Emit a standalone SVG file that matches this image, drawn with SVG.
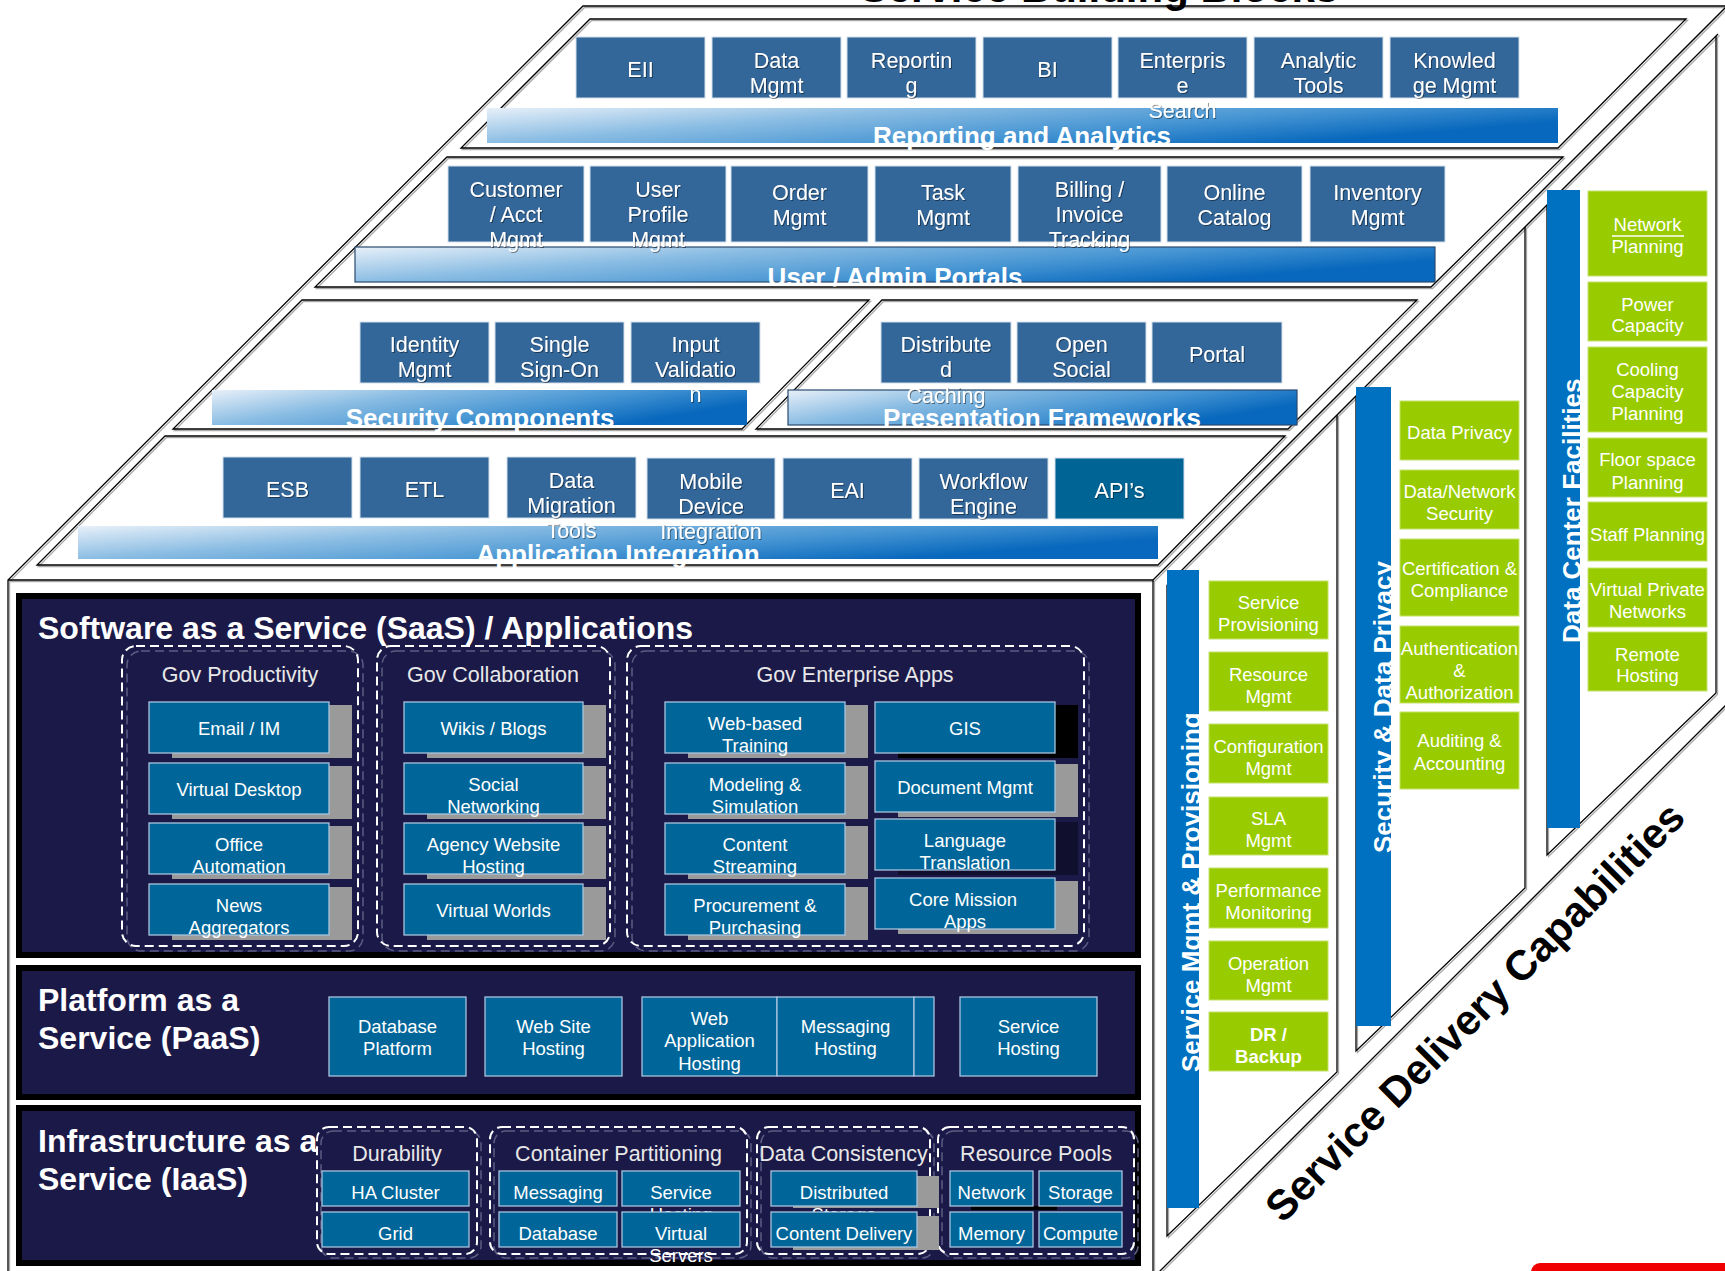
<svg xmlns="http://www.w3.org/2000/svg" width="1725" height="1271" viewBox="0 0 1725 1271">
<defs>
<style>
text{font-family:"Liberation Sans",Arial,Helvetica,sans-serif}
.e{fill:none;stroke:#000;stroke-width:1.3}
.es{fill:none;stroke:#a9a9a9;stroke-width:1.3}
.tb{fill:#336699;stroke:#d3dfeb;stroke-width:1}
.tt{font-size:21.5px;fill:#fff;text-anchor:middle}
.bn{font-size:26px;font-weight:bold;fill:#fff;text-anchor:middle}
.pn{fill:#1b1948;stroke:#000;stroke-width:6}
.pt{font-size:32px;font-weight:bold;fill:#fff}
.gd{fill:none;stroke:#fff;stroke-width:2;stroke-dasharray:9 5}
.gds{fill:none;stroke:#5c5c82;stroke-width:1.5;stroke-dasharray:9 5}
.gl{font-size:21.5px;fill:#e8e8e8;text-anchor:middle}
.sb{fill:#006699;stroke:#a9c4de;stroke-width:1.3}
.sh{fill:#9a9a9a}
.st{font-size:18.5px;fill:#fff;text-anchor:middle}
.gb{fill:#99cc00;stroke:#c4e16b;stroke-width:1}
.bar{fill:#0070c0}
.vt{font-size:26px;font-weight:bold;fill:#fff}
</style>
<linearGradient id="grad" x1="0" y1="0" x2="1" y2="0.4">
<stop offset="0" stop-color="#e7f0f9"/>
<stop offset="0.35" stop-color="#8bbde3"/>
<stop offset="0.7" stop-color="#4695d3"/>
<stop offset="1" stop-color="#0868bd"/>
</linearGradient>
<filter id="ds" x="-5%" y="-20%" width="110%" height="150%">
<feDropShadow dx="1" dy="1" stdDeviation="0.6" flood-color="#000" flood-opacity="0.45"/>
</filter>
<g id="tiers">
<polygon points="590,19 1686,19 1558,148 461,148"/>
<polygon points="447,157 1563,157 1431,287 315,287"/>
<polygon points="302,300 869,300 742,429 173,429"/>
<polygon points="882,300 1417,300 1288,429 756,429"/>
<polygon points="165,436 1285,436 1158,565 37,565"/>
</g>
<g id="frame">
<path d="M8,1275 V580 L583,6 H1730"/>
<path d="M8,580 H1153 V1275"/>
<path d="M1153,580 L1730,3"/>
<path d="M1153,1278 L1730,701"/>
<path d="M1167,585 L1718,34"/>
<path d="M1167,585 V1236 L1337,1072 V415"/>
<path d="M1356,396 V1051 L1525,888 V227"/>
<path d="M1547,205 V855 L1716,693 V36"/>
</g>
</defs>

<rect width="1725" height="1271" fill="#fff"/>

<g id="outline">
<use href="#frame" class="es" transform="translate(1.5,1.5)"/>
<use href="#frame" class="e"/>
<use href="#tiers" fill="#fff" stroke="none"/>
<use href="#tiers" class="es" transform="translate(1.5,1.5)"/>
<use href="#tiers" class="e"/>
</g>

<g id="banners">
<rect x="487" y="108" width="1071" height="35" fill="url(#grad)"/>
<rect x="355" y="247" width="1080" height="35" fill="url(#grad)" stroke="#2b4a6e" stroke-width="1.2"/>
<rect x="212" y="390" width="535" height="35" fill="url(#grad)"/>
<rect x="788" y="390" width="509" height="35" fill="url(#grad)" stroke="#2b4a6e" stroke-width="1.2"/>
<rect x="78" y="526" width="1080" height="33" fill="url(#grad)"/>
</g>

<g id="tier-boxes">
<rect class="tb" x="576" y="37" width="129" height="61"/>
<rect class="tb" x="712" y="37" width="129" height="61"/>
<rect class="tb" x="847" y="37" width="129" height="61"/>
<rect class="tb" x="983" y="37" width="129" height="61"/>
<rect class="tb" x="1118" y="37" width="129" height="61"/>
<rect class="tb" x="1254" y="37" width="129" height="61"/>
<rect class="tb" x="1390" y="37" width="129" height="61"/>

<rect class="tb" x="448" y="166" width="136" height="76"/>
<rect class="tb" x="590" y="166" width="136" height="76"/>
<rect class="tb" x="731" y="166" width="137" height="76"/>
<rect class="tb" x="875" y="166" width="136" height="76"/>
<rect class="tb" x="1018" y="166" width="143" height="76"/>
<rect class="tb" x="1167" y="166" width="135" height="76"/>
<rect class="tb" x="1310" y="166" width="135" height="76"/>

<rect class="tb" x="360" y="322" width="129" height="61"/>
<rect class="tb" x="495" y="322" width="129" height="61"/>
<rect class="tb" x="631" y="322" width="129" height="61"/>
<rect class="tb" x="881" y="322" width="130" height="61"/>
<rect class="tb" x="1017" y="322" width="129" height="61"/>
<rect class="tb" x="1152" y="322" width="130" height="61"/>

<rect class="tb" x="223" y="457" width="129" height="61"/>
<rect class="tb" x="360" y="457" width="129" height="61"/>
<rect class="tb" x="507" y="457" width="129" height="61"/>
<rect class="tb" x="647" y="458" width="128" height="61"/>
<rect class="tb" x="783" y="458" width="129" height="61"/>
<rect class="tb" x="919" y="458" width="129" height="61"/>
<rect x="1055" y="458" width="129" height="61" fill="#006495" stroke="#d3dfeb" stroke-width="1"/>
</g>

<g id="tier-texts" class="tt" filter="url(#ds)">
<text x="640.5" y="77">EII</text>
<text x="776.5" y="68">Data</text><text x="776.5" y="93">Mgmt</text>
<text x="911.5" y="68">Reportin</text><text x="911.5" y="93">g</text>
<text x="1047.5" y="77">BI</text>
<text x="1182.5" y="68">Enterpris</text><text x="1182.5" y="93">e</text><text x="1182.5" y="118">Search</text>
<text x="1318.5" y="68">Analytic</text><text x="1318.5" y="93">Tools</text>
<text x="1454.5" y="68">Knowled</text><text x="1454.5" y="93">ge Mgmt</text>

<text x="516" y="197">Customer</text><text x="516" y="222">/ Acct</text><text x="516" y="247">Mgmt</text>
<text x="658" y="197">User</text><text x="658" y="222">Profile</text><text x="658" y="247">Mgmt</text>
<text x="799.5" y="200">Order</text><text x="799.5" y="225">Mgmt</text>
<text x="943" y="200">Task</text><text x="943" y="225">Mgmt</text>
<text x="1089.5" y="197">Billing /</text><text x="1089.5" y="222">Invoice</text><text x="1089.5" y="247">Tracking</text>
<text x="1234.5" y="200">Online</text><text x="1234.5" y="225">Catalog</text>
<text x="1377.5" y="200">Inventory</text><text x="1377.5" y="225">Mgmt</text>

<text x="424.5" y="352">Identity</text><text x="424.5" y="377">Mgmt</text>
<text x="559.5" y="352">Single</text><text x="559.5" y="377">Sign-On</text>
<text x="695.5" y="352">Input</text><text x="695.5" y="377">Validatio</text><text x="695.5" y="402">n</text>
<text x="946" y="352">Distribute</text><text x="946" y="377">d</text><text x="946" y="403">Caching</text>
<text x="1081.5" y="352">Open</text><text x="1081.5" y="377">Social</text>
<text x="1217" y="362">Portal</text>

<text x="287.5" y="497">ESB</text>
<text x="424.5" y="497">ETL</text>
<text x="571.5" y="488">Data</text><text x="571.5" y="513">Migration</text><text x="571.5" y="538">Tools</text>
<text x="711" y="489">Mobile</text><text x="711" y="514">Device</text><text x="711" y="539">Integration</text>
<text x="847.5" y="498">EAI</text>
<text x="983.5" y="489">Workflow</text><text x="983.5" y="514">Engine</text>
<text x="1119.5" y="498">API’s</text>
</g>

<g id="banner-titles" class="bn">
<text x="1022" y="145">Reporting and Analytics</text>
<text x="895" y="286">User / Admin Portals</text>
<text x="480" y="427">Security Components</text>
<text x="1042" y="427">Presentation Frameworks</text>
<text x="618" y="563">Application Integration</text>
</g>

<g id="col-service-mgmt">
<rect class="bar" x="1167" y="570" width="32" height="638"/>
<text class="vt" transform="translate(1200,1072) rotate(-90)">Service Mgmt &amp; Provisioning</text>
<rect class="gb" x="1209" y="581" width="119" height="58"/>
<rect class="gb" x="1209" y="652" width="119" height="59"/>
<rect class="gb" x="1209" y="724" width="119" height="59"/>
<rect class="gb" x="1209" y="797" width="119" height="58"/>
<rect class="gb" x="1209" y="868" width="119" height="60"/>
<rect class="gb" x="1209" y="941" width="119" height="59"/>
<rect class="gb" x="1209" y="1012" width="119" height="59"/>
<g class="st">
<text x="1268.5" y="609">Service</text><text x="1268.5" y="631">Provisioning</text>
<text x="1268.5" y="681">Resource</text><text x="1268.5" y="703">Mgmt</text>
<text x="1268.5" y="753">Configuration</text><text x="1268.5" y="775">Mgmt</text>
<text x="1268.5" y="825">SLA</text><text x="1268.5" y="847">Mgmt</text>
<text x="1268.5" y="897">Performance</text><text x="1268.5" y="919">Monitoring</text>
<text x="1268.5" y="970">Operation</text><text x="1268.5" y="992">Mgmt</text>
<text x="1268.5" y="1041" font-weight="bold">DR /</text><text x="1268.5" y="1063" font-weight="bold">Backup</text>
</g>
</g>

<g id="col-security">
<rect class="bar" x="1356" y="387" width="35" height="639"/>
<text class="vt" transform="translate(1392,853) rotate(-90)">Security &amp; Data Privacy</text>
<rect class="gb" x="1400" y="401" width="119" height="59"/>
<rect class="gb" x="1400" y="470" width="119" height="59"/>
<rect class="gb" x="1400" y="539" width="119" height="77"/>
<rect class="gb" x="1400" y="626" width="119" height="77"/>
<rect class="gb" x="1400" y="712" width="119" height="77"/>
<g class="st">
<text x="1459.5" y="439">Data Privacy</text>
<text x="1459.5" y="498">Data/Network</text><text x="1459.5" y="520">Security</text>
<text x="1459.5" y="575">Certification &amp;</text><text x="1459.5" y="597">Compliance</text>
<text x="1459.5" y="655">Authentication</text><text x="1459.5" y="677">&amp;</text><text x="1459.5" y="699">Authorization</text>
<text x="1459.5" y="747">Auditing &amp;</text><text x="1459.5" y="770">Accounting</text>
</g>
</g>

<g id="col-datacenter">
<rect class="bar" x="1547" y="190" width="33" height="638"/>
<text class="vt" transform="translate(1581,643) rotate(-90)">Data Center Facilities</text>
<rect class="gb" x="1588" y="191" width="119" height="85"/>
<rect class="gb" x="1588" y="282" width="119" height="59"/>
<rect class="gb" x="1588" y="347" width="119" height="85"/>
<rect class="gb" x="1588" y="438" width="119" height="59"/>
<rect class="gb" x="1588" y="502" width="119" height="59"/>
<rect class="gb" x="1588" y="568" width="119" height="59"/>
<rect class="gb" x="1588" y="632" width="119" height="59"/>
<g class="st">
<text x="1647.5" y="231">Network</text>
<line x1="1612" y1="236" x2="1684" y2="236" stroke="#fff" stroke-width="1.3"/>
<text x="1647.5" y="253">Planning</text>
<text x="1647.5" y="311">Power</text><text x="1647.5" y="332">Capacity</text>
<text x="1647.5" y="376">Cooling</text><text x="1647.5" y="398">Capacity</text><text x="1647.5" y="420">Planning</text>
<text x="1647.5" y="466">Floor space</text><text x="1647.5" y="489">Planning</text>
<text x="1647.5" y="541">Staff Planning</text>
<text x="1647.5" y="596">Virtual Private</text><text x="1647.5" y="618">Networks</text>
<text x="1647.5" y="661">Remote</text><text x="1647.5" y="682">Hosting</text>
</g>
</g>

<g id="saas">
<rect class="pn" x="19" y="596" width="1119" height="359"/>
<text class="pt" x="38" y="639">Software as a Service (SaaS) / Applications</text>

<rect class="gds" x="127" y="651" width="236" height="300" rx="14"/>
<rect class="gd" x="122" y="646" width="236" height="300" rx="14"/>
<rect class="gds" x="382" y="651" width="233" height="300" rx="14"/>
<rect class="gd" x="377" y="646" width="233" height="300" rx="14"/>
<rect class="gds" x="632" y="651" width="457" height="300" rx="14"/>
<rect class="gd" x="627" y="646" width="457" height="300" rx="14"/>
<text class="gl" x="240" y="682">Gov Productivity</text>
<text class="gl" x="493" y="682">Gov Collaboration</text>
<text class="gl" x="855" y="682">Gov Enterprise Apps</text>

<rect class="sh" x="172" y="705" width="180" height="53"/>
<rect class="sh" x="172" y="766" width="180" height="53"/>
<rect class="sh" x="172" y="826" width="180" height="53"/>
<rect class="sh" x="172" y="887" width="180" height="53"/>
<rect class="sh" x="427" y="705" width="179" height="53"/>
<rect class="sh" x="427" y="766" width="179" height="53"/>
<rect class="sh" x="427" y="826" width="179" height="53"/>
<rect class="sh" x="427" y="887" width="179" height="53"/>
<rect class="sh" x="688" y="705" width="180" height="53"/>
<rect class="sh" x="688" y="766" width="180" height="53"/>
<rect class="sh" x="688" y="826" width="180" height="53"/>
<rect class="sh" x="688" y="887" width="180" height="53"/>
<rect x="898" y="705" width="180" height="53" fill="#000"/>
<rect class="sh" x="898" y="764" width="180" height="53"/>
<rect x="898" y="822" width="180" height="53" fill="#10102e"/>
<rect class="sh" x="898" y="881" width="180" height="53"/>

<rect class="sb" x="149" y="702" width="180" height="51"/>
<rect class="sb" x="149" y="763" width="180" height="51"/>
<rect class="sb" x="149" y="823" width="180" height="51"/>
<rect class="sb" x="149" y="884" width="180" height="51"/>
<rect class="sb" x="404" y="702" width="179" height="51"/>
<rect class="sb" x="404" y="763" width="179" height="51"/>
<rect class="sb" x="404" y="823" width="179" height="51"/>
<rect class="sb" x="404" y="884" width="179" height="51"/>
<rect class="sb" x="665" y="702" width="180" height="51"/>
<rect class="sb" x="665" y="763" width="180" height="51"/>
<rect class="sb" x="665" y="823" width="180" height="51"/>
<rect class="sb" x="665" y="884" width="180" height="51"/>
<rect class="sb" x="875" y="702" width="180" height="51"/>
<rect class="sb" x="875" y="761" width="180" height="51"/>
<rect class="sb" x="875" y="819" width="180" height="51"/>
<rect class="sb" x="875" y="878" width="180" height="51"/>

<g class="st">
<text x="239" y="735">Email / IM</text>
<text x="239" y="796">Virtual Desktop</text>
<text x="239" y="851">Office</text><text x="239" y="873">Automation</text>
<text x="239" y="912">News</text><text x="239" y="934">Aggregators</text>
<text x="493.5" y="735">Wikis / Blogs</text>
<text x="493.5" y="791">Social</text><text x="493.5" y="813">Networking</text>
<text x="493.5" y="851">Agency Website</text><text x="493.5" y="873">Hosting</text>
<text x="493.5" y="917">Virtual Worlds</text>
<text x="755" y="730">Web-based</text><text x="755" y="752">Training</text>
<text x="755" y="791">Modeling &amp;</text><text x="755" y="813">Simulation</text>
<text x="755" y="851">Content</text><text x="755" y="873">Streaming</text>
<text x="755" y="912">Procurement &amp;</text><text x="755" y="934">Purchasing</text>
<text x="965" y="735">GIS</text>
<text x="965" y="794">Document Mgmt</text>
<text x="965" y="847">Language</text><text x="965" y="869">Translation</text>
<text x="963" y="906">Core Mission</text><text x="965" y="928">Apps</text>
</g>
</g>

<g id="paas">
<rect class="pn" x="19" y="968" width="1119" height="129"/>
<text class="pt" x="38" y="1011">Platform as a</text>
<text class="pt" x="38" y="1049">Service (PaaS)</text>
<rect class="sb" x="329" y="997" width="137" height="79"/>
<rect class="sb" x="485" y="997" width="137" height="79"/>
<rect class="sb" x="642" y="997" width="135" height="79"/>
<rect class="sb" x="777" y="997" width="137" height="79"/>
<rect class="sb" x="914" y="997" width="20" height="79"/>
<rect class="sb" x="960" y="997" width="137" height="79"/>
<g class="st">
<text x="397.5" y="1033">Database</text><text x="397.5" y="1055">Platform</text>
<text x="553.5" y="1033">Web Site</text><text x="553.5" y="1055">Hosting</text>
<text x="709.5" y="1025">Web</text><text x="709.5" y="1047">Application</text><text x="709.5" y="1070">Hosting</text>
<text x="845.5" y="1033">Messaging</text><text x="845.5" y="1055">Hosting</text>
<text x="1028.5" y="1033">Service</text><text x="1028.5" y="1055">Hosting</text>
</g>
</g>

<g id="iaas">
<rect class="pn" x="19" y="1108" width="1119" height="155"/>
<text class="pt" x="38" y="1152">Infrastructure as a</text>
<text class="pt" x="38" y="1190">Service (IaaS)</text>

<rect class="gds" x="321" y="1131" width="160" height="127" rx="12"/>
<rect class="gd" x="317" y="1127" width="160" height="127" rx="12"/>
<rect class="gds" x="494" y="1131" width="257" height="127" rx="12"/>
<rect class="gd" x="490" y="1127" width="257" height="127" rx="12"/>
<rect class="gds" x="761" y="1131" width="173" height="127" rx="12"/>
<rect class="gd" x="757" y="1127" width="173" height="127" rx="12"/>
<rect class="gds" x="942" y="1131" width="196" height="127" rx="12"/>
<rect class="gd" x="938" y="1127" width="196" height="127" rx="12"/>
<text class="gl" x="397" y="1161">Durability</text>
<text class="gl" x="618.5" y="1161">Container Partitioning</text>
<text class="gl" x="843.5" y="1161">Data Consistency</text>
<text class="gl" x="1036" y="1161">Resource Pools</text>

<rect class="sh" x="793" y="1176" width="146" height="32"/>
<rect x="971" y="1206" width="86" height="4" fill="#000"/>
<rect class="sb" x="322" y="1171" width="147" height="35"/>
<rect class="sb" x="499" y="1171" width="118" height="35"/>
<rect class="sb" x="622" y="1171" width="118" height="35"/>
<rect class="sb" x="771" y="1171" width="146" height="35"/>
<rect class="sb" x="950" y="1171" width="83" height="35"/>
<rect class="sb" x="1039" y="1171" width="83" height="35"/>
<g class="st">
<text x="395.5" y="1199">HA Cluster</text>
<text x="558" y="1199">Messaging</text>
<text x="681" y="1199">Service</text><text x="681" y="1221">Hosting</text>
<text x="844" y="1199">Distributed</text><text x="844" y="1221">Storage</text>
<text x="991.5" y="1199">Network</text>
<text x="1080.5" y="1199">Storage</text>
</g>
<rect class="sh" x="793" y="1216" width="146" height="34"/>
<rect class="sb" x="322" y="1212" width="147" height="35"/>
<rect class="sb" x="499" y="1212" width="118" height="35"/>
<rect class="sb" x="622" y="1212" width="118" height="35"/>
<rect class="sb" x="771" y="1212" width="146" height="35"/>
<rect class="sb" x="950" y="1212" width="83" height="35"/>
<rect class="sb" x="1039" y="1212" width="83" height="35"/>
<g class="st">
<text x="395.5" y="1240">Grid</text>
<text x="558" y="1240">Database</text>
<text x="681" y="1240">Virtual</text><text x="681" y="1262">Servers</text>
<text x="844" y="1240">Content Delivery</text>
<text x="991.5" y="1240">Memory</text>
<text x="1080.5" y="1240">Compute</text>
</g>
</g>

<g id="titles">
<text x="1099" y="2" font-size="42" font-weight="bold" text-anchor="middle" fill="#000">Service Building Blocks</text>
<text transform="translate(1485,1022) rotate(-45)" font-size="42" font-weight="bold" text-anchor="middle" fill="#000">Service Delivery Capabilities</text>
</g>
<rect x="1531" y="1263" width="210" height="20" rx="9" fill="#f00000"/>
</svg>
